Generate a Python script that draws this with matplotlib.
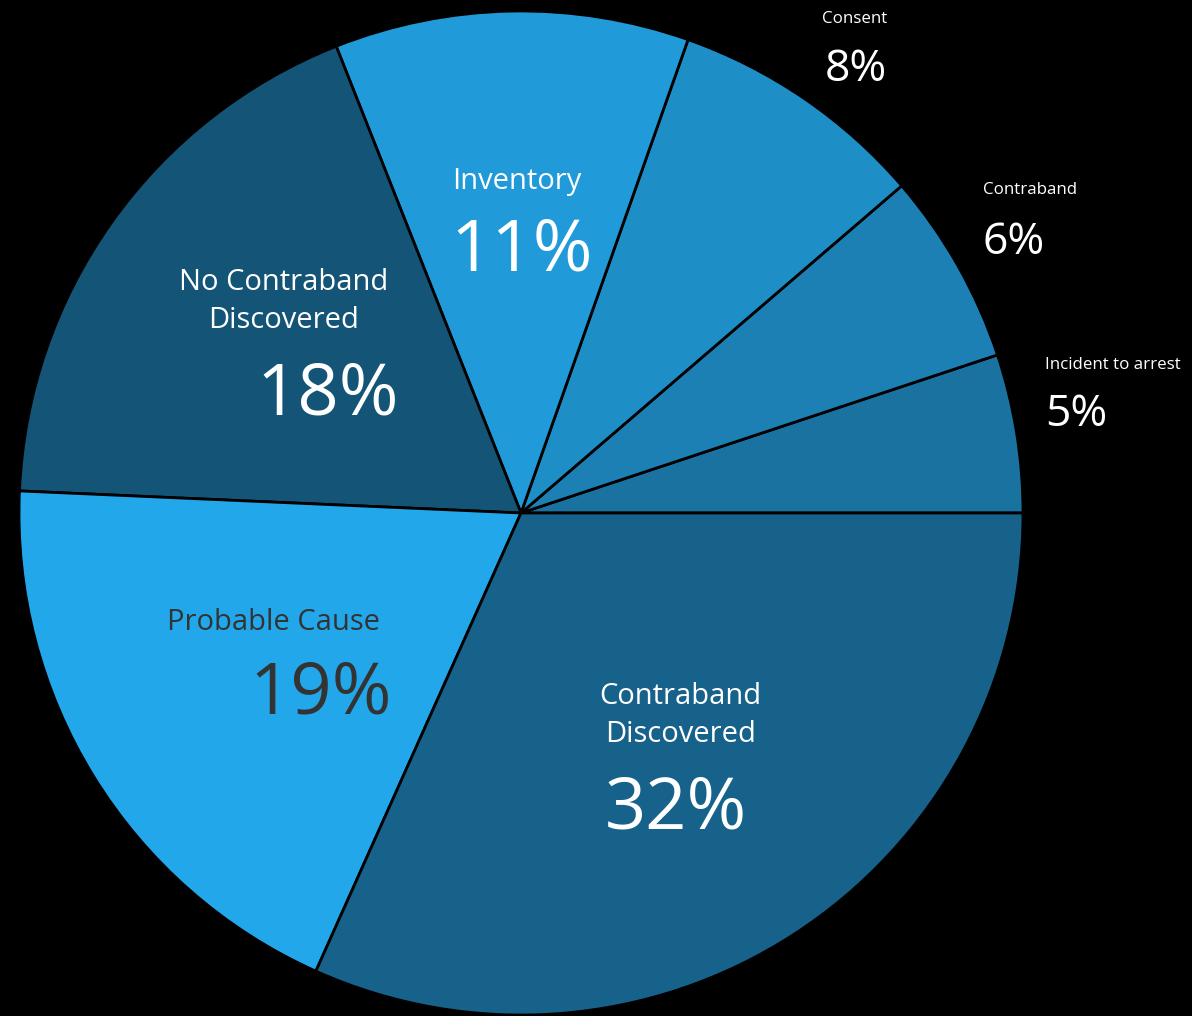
import matplotlib.pyplot as plt

plt.rcParams['font.family'] = ['Open Sans', 'DejaVu Sans']

# Search reasons, counter-clockwise from 3 o'clock
categories = ['Incident to arrest', 'Contraband', 'Consent', 'Inventory',
              'No Contraband\nDiscovered', 'Probable Cause', 'Contraband\nDiscovered']
shares = [5.1, 6.2, 8.3, 11.4, 18.3, 19.0, 31.7]
colors = ['#1a72a0', '#1c80b5', '#1e8ec6', '#209ad8', '#145476', '#22a8ea', '#17628b']

# label layout, in pie-radius units from the centre: (title xy, pct xy, align, size, colour)
layout = [
    ((1.044, 0.295), (1.044, 0.195), 'left', 'small', 'white'),
    ((0.920, 0.643), (0.920, 0.538), 'left', 'small', 'white'),
    ((0.665, 0.984), (0.667, 0.882), 'center', 'small', 'white'),
    ((-0.008, 0.660), (0.002, 0.520), 'center', 'big', 'white'),
    ((-0.472, 0.422), (-0.386, 0.233), 'center', 'big', 'white'),
    ((-0.494, -0.219), (-0.400, -0.363), 'center', 'big', '#333333'),
    ((0.317, -0.404), (0.309, -0.592), 'center', 'big', 'white'),
]
sizes = {'small': (12.2, 32), 'big': (21, 52)}

fig = plt.figure(figsize=(11.92, 10.16), dpi=100)
fig.patch.set_facecolor('black')
ax = fig.add_axes([0, 0, 1, 1])
ax.set_facecolor('black')

ax.pie(shares, colors=colors, startangle=0, counterclock=True,
       wedgeprops=dict(edgecolor='black', linewidth=2))

for cat, val, (tpos, ppos, ha, sz, col) in zip(categories, shares, layout):
    ts, ps = sizes[sz]
    ax.text(tpos[0], tpos[1], cat, ha=ha, va='center', fontsize=ts, color=col,
            linespacing=1.4)
    ax.text(ppos[0], ppos[1], f'{val:.0f}%', ha=ha, va='center', fontsize=ps, color=col)

ax.set_xlim(-521 / 502, (1192 - 521) / 502)
ax.set_ylim(-(1016 - 513) / 502, 513 / 502)
ax.set_aspect('equal')
ax.axis('off')

fig.savefig('out.png', dpi=100, facecolor='black')
